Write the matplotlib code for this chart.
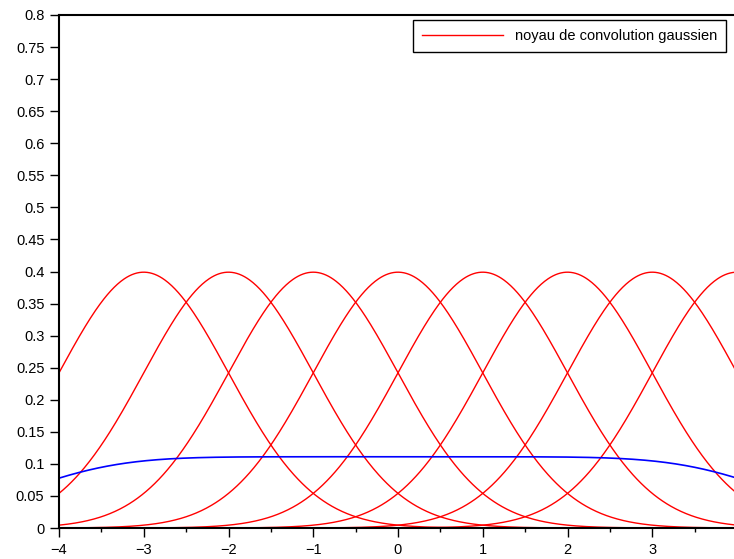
import matplotlib.pyplot as plt
from matplotlib.ticker import MultipleLocator
import numpy as np

plt.rcParams['font.family'] = ['Liberation Sans', 'DejaVu Sans']

# kernel centres drawn in red, and the centres averaged for the blue curve
red_centres = [-3, -2, -1, 0, 1, 2, 3, 4]
sum_centres = [-4, -3, -2, -1, 0, 1, 2, 3, 4]
sigma = 1.0
legend_label = "noyau de convolution gaussien"
y_ticks = [0, 0.05, 0.1, 0.15, 0.2, 0.25, 0.3, 0.35, 0.4, 0.45, 0.5,
           0.55, 0.6, 0.65, 0.7, 0.75, 0.8]
x_ticks = [-4, -3, -2, -1, 0, 1, 2, 3]


def gauss(x, mu, s):
    return np.exp(-0.5 * ((x - mu) / s) ** 2) / (s * np.sqrt(2 * np.pi))


x = np.linspace(-4, 4, 801)

fig = plt.figure(figsize=(7.34, 5.59), dpi=100)
ax = fig.add_axes([59 / 734, 31 / 559, 678 / 734, 513 / 559])

for i, mu in enumerate(red_centres):
    ax.plot(x, gauss(x, mu, sigma), color='#ff0000', lw=1.0,
            label=legend_label if i == 0 else None)

# average of the kernels
blue = sum(gauss(x, mu, sigma) for mu in sum_centres) / len(sum_centres)
ax.plot(x, blue, color='#0000ff', lw=1.2)

ax.set_xlim(-4, 4)
ax.set_ylim(0, 0.8)
ax.set_xticks(x_ticks)
ax.set_yticks(y_ticks)
ax.set_yticklabels(['%g' % v for v in y_ticks])
ax.xaxis.set_minor_locator(MultipleLocator(0.5))
ax.tick_params(axis='both', which='major', direction='out', length=6.5,
               width=1, labelsize=10.5, colors='black', pad=4)
ax.tick_params(axis='x', which='minor', direction='out', length=3, width=1)
for sp in ax.spines.values():
    sp.set_linewidth(1.5)

leg = ax.legend(loc='upper right', bbox_to_anchor=(726 / 734, 1 - 20 / 559),
                bbox_transform=fig.transFigure, borderaxespad=0,
                fontsize=10.5, handlelength=5.6, borderpad=0.6,
                fancybox=False, framealpha=1, edgecolor='black')
leg.get_frame().set_linewidth(1.0)

fig.savefig('out.png', dpi=100)
